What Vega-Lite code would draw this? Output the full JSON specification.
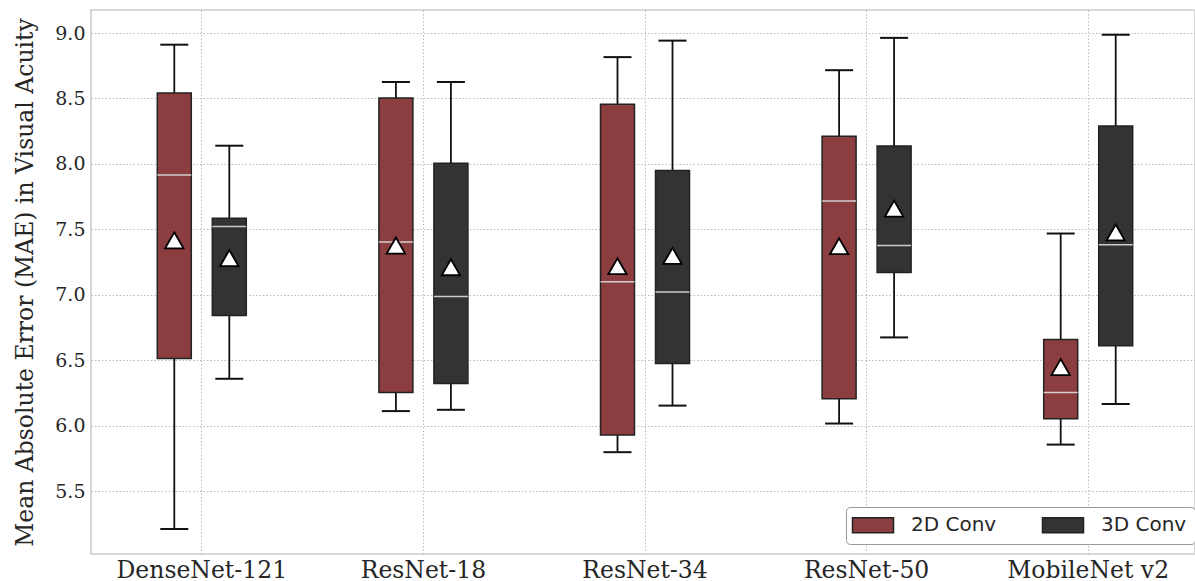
{
  "$schema": "https://vega.github.io/schema/vega-lite/v6.json",
  "width": 1104,
  "height": 544,
  "autosize": {"type": "none"},
  "padding": {"left": 91, "top": 10, "right": 0, "bottom": 27},
  "background": "white",
  "config": {
    "view": {"stroke": "#cccccc", "strokeWidth": 1.6},
    "axis": {
      "domain": false,
      "ticks": false,
      "grid": true,
      "gridColor": "#bbbbbb",
      "gridDash": [1.5, 2],
      "gridWidth": 1,
      "labelColor": "#262626",
      "titleColor": "#262626",
      "labelFont": "DejaVu Serif",
      "titleFont": "DejaVu Serif",
      "titleFontWeight": "normal"
    }
  },
  "data": {
    "values": [
      {"model": "DenseNet-121", "type": "2D Conv", "lower": 5.21, "q1": 6.513, "median": 7.916, "q3": 8.542, "upper": 8.911, "mean": 7.416},
      {"model": "DenseNet-121", "type": "3D Conv", "lower": 6.358, "q1": 6.842, "median": 7.521, "q3": 7.584, "upper": 8.139, "mean": 7.28},
      {"model": "ResNet-18", "type": "2D Conv", "lower": 6.111, "q1": 6.253, "median": 7.403, "q3": 8.503, "upper": 8.626, "mean": 7.376},
      {"model": "ResNet-18", "type": "3D Conv", "lower": 6.121, "q1": 6.321, "median": 6.987, "q3": 8.005, "upper": 8.626, "mean": 7.21},
      {"model": "ResNet-34", "type": "2D Conv", "lower": 5.797, "q1": 5.929, "median": 7.1, "q3": 8.455, "upper": 8.816, "mean": 7.218},
      {"model": "ResNet-34", "type": "3D Conv", "lower": 6.153, "q1": 6.474, "median": 7.021, "q3": 7.95, "upper": 8.942, "mean": 7.297},
      {"model": "ResNet-50", "type": "2D Conv", "lower": 6.016, "q1": 6.205, "median": 7.716, "q3": 8.211, "upper": 8.716, "mean": 7.371},
      {"model": "ResNet-50", "type": "3D Conv", "lower": 6.674, "q1": 7.171, "median": 7.376, "q3": 8.137, "upper": 8.963, "mean": 7.658},
      {"model": "MobileNet v2", "type": "2D Conv", "lower": 5.855, "q1": 6.053, "median": 6.253, "q3": 6.658, "upper": 7.468, "mean": 6.447},
      {"model": "MobileNet v2", "type": "3D Conv", "lower": 6.166, "q1": 6.61, "median": 7.382, "q3": 8.289, "upper": 8.987, "mean": 7.476}
    ]
  },
  "encoding": {
    "x": {
      "field": "model",
      "type": "nominal",
      "sort": ["DenseNet-121", "ResNet-18", "ResNet-34", "ResNet-50", "MobileNet v2"],
      "scale": {"range": [0, 1108], "paddingInner": 0, "paddingOuter": 0},
      "axis": {"title": null, "labelAngle": 0, "labelFontSize": 23.5, "labelPadding": 4, "bandPosition": 0.5}
    },
    "xOffset": {
      "field": "type",
      "type": "nominal",
      "sort": ["2D Conv", "3D Conv"],
      "scale": {"range": [66.3, 155.3], "paddingInner": 0.382, "paddingOuter": 0}
    }
  },
  "layer": [
    {
      "mark": {"type": "rule", "color": "#111111", "strokeWidth": 1.8},
      "encoding": {
        "y": {
          "field": "lower",
          "type": "quantitative",
          "title": "Mean Absolute Error (MAE) in Visual Acuity",
          "scale": {"domain": [5.019, 9.176], "nice": false, "zero": false},
          "axis": {
            "values": [5.5, 6, 6.5, 7, 7.5, 8, 8.5, 9],
            "format": ".1f",
            "labelFontSize": 19,
            "labelPadding": 6,
            "titleFontSize": 23.5,
            "titlePadding": 17
          }
        },
        "y2": {"field": "upper"}
      }
    },
    {
      "mark": {"type": "bar", "stroke": "#222222", "strokeWidth": 1.5, "opacity": 1},
      "encoding": {
        "y": {"field": "q1", "type": "quantitative", "title": "Mean Absolute Error (MAE) in Visual Acuity"},
        "y2": {"field": "q3"},
        "color": {
          "field": "type",
          "type": "nominal",
          "scale": {"domain": ["2D Conv", "3D Conv"], "range": ["#8b3d3f", "#333333"]},
          "legend": {
            "orient": "none",
            "legendX": 755,
            "legendY": 497,
            "direction": "horizontal",
            "title": null,
            "symbolType": "M-2.733,-1H2.733V1H-2.733Z",
            "symbolSize": 225,
            "symbolStrokeColor": "#222222",
            "symbolStrokeWidth": 1.5,
            "symbolOpacity": 1,
            "symbolOffset": 9,
            "labelFont": "DejaVu Sans",
            "labelFontSize": 20,
            "labelColor": "#262626",
            "labelOffset": 28,
            "columnPadding": 42,
            "padding": 8,
            "fillColor": "white",
            "strokeColor": "#999999",
            "cornerRadius": 4,
            "encode": {"symbols": {"update": {"stroke": {"value": "#222222"}, "strokeWidth": {"value": 1.5}}}}
          }
        }
      }
    },
    {
      "mark": {"type": "tick", "color": "#dddddd", "thickness": 1.5, "size": 34, "opacity": 0.9},
      "encoding": {"y": {"field": "median", "type": "quantitative", "title": "Mean Absolute Error (MAE) in Visual Acuity"}}
    },
    {
      "mark": {"type": "tick", "color": "#111111", "thickness": 2, "size": 28, "opacity": 1},
      "encoding": {"y": {"field": "lower", "type": "quantitative", "title": "Mean Absolute Error (MAE) in Visual Acuity"}}
    },
    {
      "mark": {"type": "tick", "color": "#111111", "thickness": 2, "size": 28, "opacity": 1},
      "encoding": {"y": {"field": "upper", "type": "quantitative", "title": "Mean Absolute Error (MAE) in Visual Acuity"}}
    },
    {
      "mark": {"type": "point", "shape": "triangle-up", "filled": true, "fill": "white", "stroke": "black", "strokeWidth": 1.8, "size": 340, "opacity": 1},
      "encoding": {"y": {"field": "mean", "type": "quantitative", "title": "Mean Absolute Error (MAE) in Visual Acuity"}}
    }
  ]
}
